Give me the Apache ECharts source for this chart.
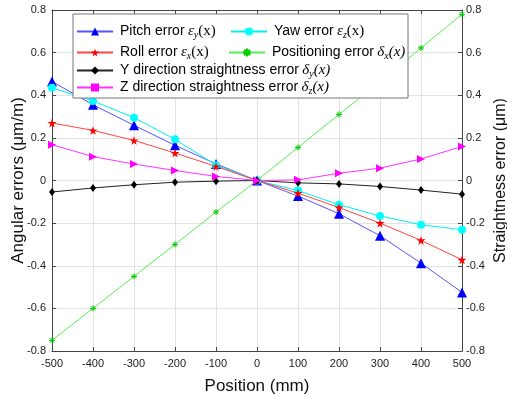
<!DOCTYPE html>
<html><head><meta charset="utf-8">
<script src="https://cdn.jsdelivr.net/npm/echarts@6/dist/echarts.min.js"></script>
<style>html,body{margin:0;padding:0;background:#fff}#c{width:507px;height:398px}</style>
</head><body><div id="c"></div>
<script>
const positions = [-500, -400, -300, -200, -100, 0, 100, 200, 300, 400, 500];
const pitchError = [0.465, 0.355, 0.259, 0.165, 0.078, 0, -0.073, -0.156, -0.259, -0.388, -0.525];
const yawError = [0.435, 0.373, 0.295, 0.193, 0.072, 0, -0.047, -0.114, -0.166, -0.208, -0.231];
const rollError = [0.27, 0.235, 0.188, 0.129, 0.066, 0, -0.059, -0.127, -0.2, -0.281, -0.372];
const positioningError = [-0.75, -0.6, -0.45, -0.3, -0.148, 0, 0.155, 0.31, 0.462, 0.622, 0.78];
const yStraightness = [-0.054, -0.035, -0.02, -0.008, -0.003, 0, -0.011, -0.016, -0.028, -0.045, -0.064];
const zStraightness = [0.168, 0.112, 0.077, 0.047, 0.019, 0, 0.003, 0.034, 0.058, 0.101, 0.16];
const yTicks = { min: -0.8, max: 0.8, interval: 0.2 };
const xTicks = { min: -500, max: 500, interval: 100 };

const names = ['Pitch error', 'Yaw error', 'Roll error', 'Positioning error',
  'Y direction straightness error', 'Z direction straightness error'];
const mathLabels = {
  'Pitch error': '{g|ε}{s|y}{p|(x)}',
  'Yaw error': '{g|ε}{s|z}{p|(x)}',
  'Roll error': '{g|ε}{s|x}{p|(x)}',
  'Positioning error': '{g|δ}{s|x}{pi|(x)}',
  'Y direction straightness error': '{g|δ}{s|y}{pi|(x)}',
  'Z direction straightness error': '{g|δ}{s|z}{pi|(x)}'
};

const pair = arr => positions.map((p, i) => [p, arr[i]]);
const star = 'path://M50,0 L61,35 L98,35 L68,57 L79,91 L50,70 L21,91 L32,57 L2,35 L39,35 Z';
const asterisk = 'path://M0,5L10,5M5,0L5,10M1.5,1.5L8.5,8.5M8.5,1.5L1.5,8.5';

const rich = {
  t: { fontFamily: 'Liberation Sans', fontSize: 14, color: '#000', lineHeight: 18, verticalAlign: 'middle' },
  g: { fontFamily: 'Liberation Serif', fontStyle: 'italic', fontSize: 15, color: '#000', lineHeight: 18 },
  s: { fontFamily: 'Liberation Serif', fontStyle: 'italic', fontSize: 10, color: '#000', lineHeight: 18, padding: [7, 0, 0, 0] },
  p: { fontFamily: 'Liberation Serif', fontSize: 15, color: '#000', lineHeight: 18 },
  pi: { fontFamily: 'Liberation Serif', fontStyle: 'italic', fontSize: 15, color: '#000', lineHeight: 18 }
};
const legendPos = [[76, 23], [230, 23], [76, 44], [228, 44], [76, 62], [76, 79]];
const legends = names.map((n, i) => ({
  data: [n], left: legendPos[i][0], top: legendPos[i][1], padding: 0,
  itemWidth: 36, itemHeight: 10, itemGap: 0, z: 10,
  selectedMode: false,
  formatter: nm => '{t|' + nm + '} ' + mathLabels[nm],
  textStyle: { rich: rich, padding: [0, 0, 0, 2] }
}));

const chart = echarts.init(document.getElementById('c'), null, { renderer: 'canvas' });
const axisCommon = {
  axisLine: { show: true, onZero: false, lineStyle: { color: '#444', width: 1 } },
  axisTick: { show: true, inside: true, length: 4, lineStyle: { color: '#444' } },
  axisLabel: { color: '#222', fontFamily: 'Liberation Sans', fontSize: 11 },
  nameMoveOverlap: false,
  nameTextStyle: { color: '#111', fontFamily: 'Liberation Sans', fontSize: 17 }
};
const option = {
  backgroundColor: '#fff',
  animation: false,
  grid: { left: 52, right: 45, top: 10, bottom: 47, containLabel: false, outerBoundsMode: 'none' },
  legend: legends,
  graphic: [{
    type: 'rect', z: 9, shape: { x: 73, y: 14, width: 335, height: 84 },
    style: { fill: '#fff', stroke: '#777', lineWidth: 1 }
  }],
  xAxis: [
    Object.assign({}, axisCommon, {
      type: 'value', min: xTicks.min, max: xTicks.max, interval: xTicks.interval,
      position: 'bottom', name: 'Position (mm)', nameLocation: 'middle', nameGap: 27,
      axisLabel: Object.assign({}, axisCommon.axisLabel, { margin: 7 }),
      splitLine: { show: true, lineStyle: { color: '#e2e2e2', width: 1 } }
    }),
    Object.assign({}, axisCommon, {
      type: 'value', min: xTicks.min, max: xTicks.max, interval: xTicks.interval,
      position: 'top', axisLabel: { show: false }, splitLine: { show: false }
    })
  ],
  yAxis: [
    Object.assign({}, axisCommon, {
      type: 'value', min: yTicks.min, max: yTicks.max, interval: yTicks.interval,
      position: 'left', name: 'Angular errors (μm/m)', nameLocation: 'middle', nameGap: 25,
      nameRotate: 90,
      axisLabel: Object.assign({}, axisCommon.axisLabel, { margin: 6 }),
      splitLine: { show: true, lineStyle: { color: '#e2e2e2', width: 1 } }
    }),
    Object.assign({}, axisCommon, {
      type: 'value', min: yTicks.min, max: yTicks.max, interval: yTicks.interval,
      position: 'right', name: 'Straightness error (μm)', nameLocation: 'middle', nameGap: 31,
      nameRotate: 90, nameTextStyle: Object.assign({}, axisCommon.nameTextStyle, { fontSize: 16 }),
      axisLabel: Object.assign({}, axisCommon.axisLabel, { margin: 4 }),
      splitLine: { show: false }
    })
  ],
  series: [
    { name: 'Pitch error', type: 'line', data: pair(pitchError), symbol: 'triangle', symbolSize: 10,
      itemStyle: { color: '#0000ff' }, lineStyle: { color: '#5555ff', width: 1 } },
    { name: 'Yaw error', type: 'line', data: pair(yawError), symbol: 'circle', symbolSize: 8,
      itemStyle: { color: '#00ffff' }, lineStyle: { color: '#00f0f0', width: 1 } },
    { name: 'Roll error', type: 'line', data: pair(rollError), symbol: star, symbolSize: 9,
      itemStyle: { color: '#ff0000' }, lineStyle: { color: '#ff4444', width: 1 } },
    { name: 'Positioning error', type: 'line', data: pair(positioningError), yAxisIndex: 1, symbol: asterisk, symbolSize: 6,
      itemStyle: { color: '#00cc00', borderColor: '#00cc00', borderWidth: 1 }, lineStyle: { color: '#55ee55', width: 1 } },
    { name: 'Y direction straightness error', type: 'line', data: pair(yStraightness), yAxisIndex: 1, symbol: 'diamond', symbolSize: [6, 8],
      itemStyle: { color: '#000' }, lineStyle: { color: '#222', width: 1 } },
    { name: 'Z direction straightness error', type: 'line', yAxisIndex: 1, symbol: 'rect', symbolSize: 7,
      data: pair(zStraightness).map(d => ({ value: d, symbol: 'triangle', symbolRotate: -90, symbolSize: 8 })),
      itemStyle: { color: '#ff00ff' }, lineStyle: { color: '#ff33ff', width: 1 } }
  ]
};
chart.setOption(option);
</script>
</body></html>
